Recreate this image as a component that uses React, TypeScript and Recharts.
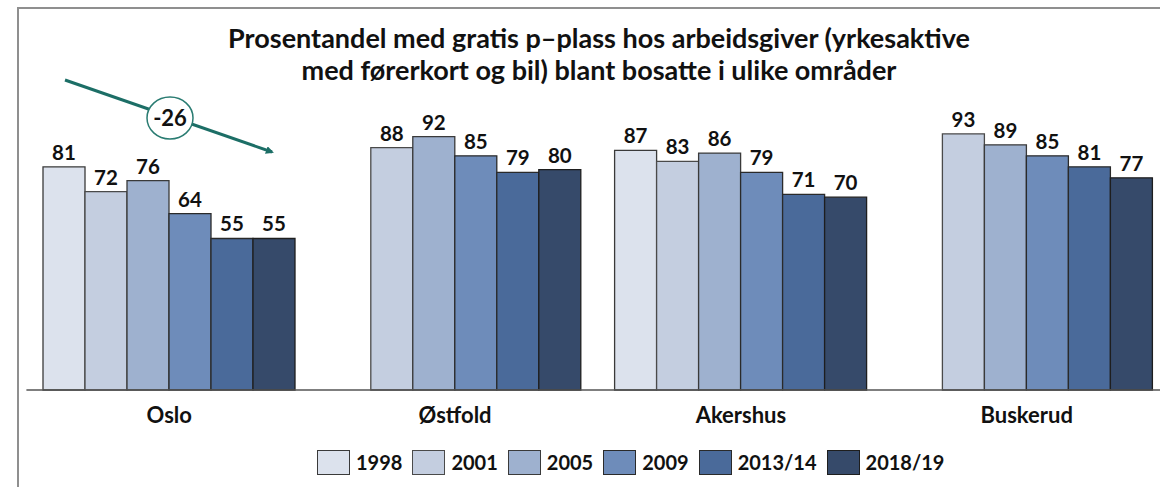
import React from 'react';
import { BarChart, Bar, XAxis, YAxis, LabelList } from 'recharts';

const categories = ['Oslo', 'Østfold', 'Akershus', 'Buskerud'];
const v1998 = [81, null, 87, null];
const v2001 = [72, 88, 83, 93];
const v2005 = [76, 92, 86, 89];
const v2009 = [64, 85, 79, 85];
const v2013 = [55, 79, 71, 81];
const v2018 = [55, 80, 70, 77];
const seriesNames = ['1998', '2001', '2005', '2009', '2013/14', '2018/19'];
const seriesKeys = ['s1998', 's2001', 's2005', 's2009', 's2013', 's2018'];
const seriesValues = [v1998, v2001, v2005, v2009, v2013, v2018];
const colors = ['#dce2ed', '#c4cee0', '#9eb1cf', '#6e8cba', '#4a6a9a', '#364a6a'];
const strokes = ['#3a3a3a', '#4a4a4a', '#3a3a3a', '#2a2a2a', '#2a2a2a', '#1e1e1e'];
const titleLines = [
  'Prosentandel med gratis p–plass hos arbeidsgiver (yrkesaktive',
  'med førerkort og bil) blant bosatte i ulike områder',
];
const changeLabel = '-26';

const data = categories.map((c, i) => {
  const row: Record<string, any> = { name: c };
  seriesKeys.forEach((k, j) => {
    row[k] = seriesValues[j][i];
  });
  return row;
});

const FONT = 'Lato, "Open Sans", sans-serif';

const ValueLabel = (props: any) => {
  const { x, y, width, value } = props;
  const cx = Number(x) + Number(width) / 2;
  if (value === null || value === undefined) {
    return (
      <text x={cx} y={Number(y) - 12} textAnchor="middle" fontFamily={FONT} fontSize={14} fill="#555">
        *
      </text>
    );
  }
  return (
    <text x={cx} y={Number(y) - 7} textAnchor="middle" fontFamily={FONT} fontWeight="bold" fontSize={20.5} fill="#111">
      {value}
    </text>
  );
};

const CatTick = (props: any) => {
  const { x, y, payload } = props;
  return (
    <text x={x} y={y} dy={33} textAnchor="middle" fontFamily={FONT} fontWeight="bold" fontSize={22} fill="#111">
      {payload.value}
    </text>
  );
};

export default function App() {
  return (
    <div
      style={{
        position: 'absolute',
        left: 0,
        top: 0,
        width: 1160,
        height: 487,
        overflow: 'hidden',
        background: '#fff',
        fontFamily: FONT,
      }}
    >
      <div
        style={{
          position: 'absolute',
          left: 17,
          top: 7,
          width: 1200,
          height: 600,
          borderTop: '2px solid #8f8f8f',
          borderLeft: '2px solid #8f8f8f',
        }}
      />
      <div style={{ position: 'absolute', left: 0, top: 0 }}>
        <BarChart
          width={1180}
          height={487}
          data={data}
          margin={{ top: 114.5, right: 10.4, bottom: 67, left: 26.4 }}
          barCategoryGap={16.6}
          barGap={0}
        >
          <XAxis
            dataKey="name"
            tickLine={false}
            tickSize={0}
            tickMargin={0}
            height={30}
            axisLine={{ stroke: '#555', strokeWidth: 1.5 }}
            tick={<CatTick />}
            interval={0}
          />
          <YAxis hide domain={[0, 100]} />
          {seriesKeys.map((k, j) => (
            <Bar
              key={k}
              dataKey={k}
              name={seriesNames[j]}
              fill={colors[j]}
              stroke={strokes[j]}
              strokeWidth={1.3}
              isAnimationActive={false}
            >
              <LabelList dataKey={k} content={<ValueLabel />} />
            </Bar>
          ))}
        </BarChart>
      </div>
      <svg
        width={1160}
        height={487}
        style={{ position: 'absolute', left: 0, top: 0, pointerEvents: 'none' }}
      >
        <defs>
          <marker id="ah" markerWidth="8" markerHeight="8" refX="6" refY="4" orient="auto" markerUnits="userSpaceOnUse">
            <path d="M0,0 L8,4 L0,8 z" fill="#1c6e66" />
          </marker>
        </defs>
        {titleLines.map((t, i) => (
          <text
            key={i}
            x={599}
            y={48 + i * 32}
            textAnchor="middle"
            fontFamily={FONT}
            fontWeight="bold"
            fontSize={27}
            fill="#111"
          >
            {t}
          </text>
        ))}
        <line x1={65} y1={80} x2={272} y2={152} stroke="#1c6e66" strokeWidth={3} markerEnd="url(#ah)" />
        <ellipse cx={170} cy={118} rx={23} ry={21} fill="#fff" stroke="#2a7c72" strokeWidth={1.5} />
        <text x={170} y={126} textAnchor="middle" fontFamily={FONT} fontWeight="bold" fontSize={22} fill="#111">
          {changeLabel}
        </text>
      </svg>
      <div
        style={{
          position: 'absolute',
          left: 317,
          top: 450,
          display: 'flex',
          alignItems: 'center',
          fontFamily: FONT,
          fontWeight: 'bold',
          fontSize: 20,
          lineHeight: '25px',
          color: '#111',
          whiteSpace: 'nowrap',
        }}
      >
        {seriesNames.map((n, j) => (
          <div key={n} style={{ display: 'flex', alignItems: 'center', marginRight: 10 }}>
            <div
              style={{
                width: 31,
                height: 23,
                background: colors[j],
                border: '1.3px solid ' + strokes[j],
                marginRight: 6,
              }}
            />
            <span>{n}</span>
          </div>
        ))}
      </div>
    </div>
  );
}
